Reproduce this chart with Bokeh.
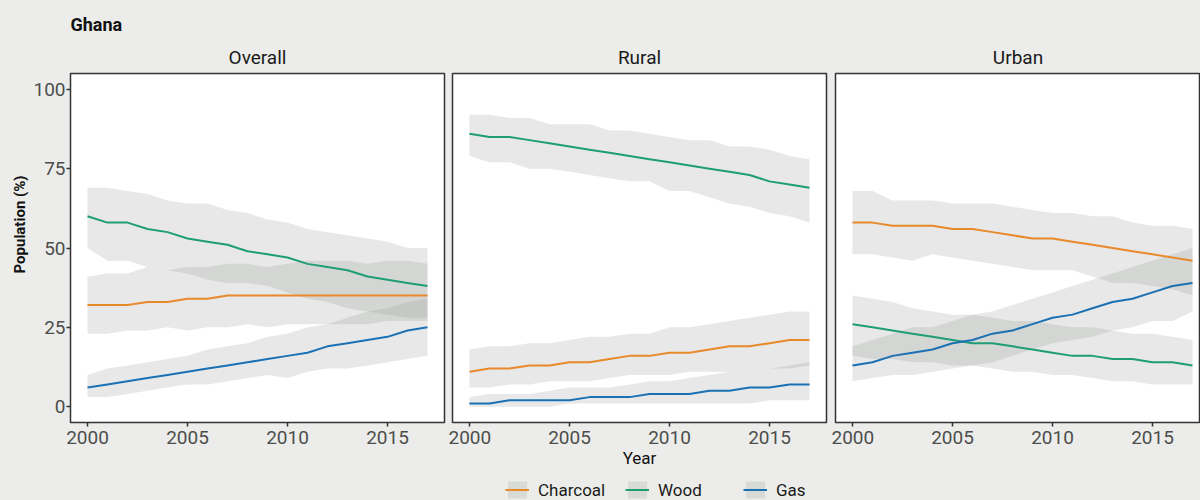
from bokeh.plotting import figure
from bokeh.layouts import row, column
from bokeh.models import Range1d, FixedTicker, Title, Legend, LegendItem
from bokeh.embed import file_html
from bokeh.resources import INLINE

# ---------------- data ----------------
years = list(range(2000, 2018))
fuels = ["Charcoal", "Wood", "Gas"]
panel_names = ["Overall", "Rural", "Urban"]
x_ticks = [2000, 2005, 2010, 2015]
y_ticks = [0, 25, 50, 75, 100]

overall_charcoal = [32, 32, 32, 33, 33, 34, 34, 35, 35, 35, 35, 35, 35, 35, 35, 35, 35, 35]
overall_charcoal_lo = [23, 23, 24, 24, 25, 24, 25, 25, 26, 25, 26, 26, 26, 26, 26, 27, 27, 27]
overall_charcoal_hi = [41, 42, 42, 44, 43, 44, 44, 45, 45, 44, 45, 46, 46, 46, 45, 46, 46, 45]
overall_wood = [60, 58, 58, 56, 55, 53, 52, 51, 49, 48, 47, 45, 44, 43, 41, 40, 39, 38]
overall_wood_lo = [50, 46, 46, 44, 43, 42, 40, 39, 39, 38, 36, 34, 33, 31, 30, 29, 28, 28]
overall_wood_hi = [69, 69, 68, 67, 65, 64, 64, 62, 61, 59, 58, 56, 55, 54, 53, 52, 50, 50]
overall_gas = [6, 7, 8, 9, 10, 11, 12, 13, 14, 15, 16, 17, 19, 20, 21, 22, 24, 25]
overall_gas_lo = [3, 3, 4, 5, 6, 7, 7, 8, 9, 10, 9, 11, 12, 12, 13, 14, 15, 16]
overall_gas_hi = [10, 12, 13, 14, 15, 16, 18, 19, 20, 22, 23, 25, 26, 28, 30, 31, 33, 34]

rural_charcoal = [11, 12, 12, 13, 13, 14, 14, 15, 16, 16, 17, 17, 18, 19, 19, 20, 21, 21]
rural_charcoal_lo = [6, 6, 7, 7, 8, 8, 8, 9, 10, 10, 10, 11, 11, 11, 12, 12, 12, 13]
rural_charcoal_hi = [18, 19, 19, 20, 20, 21, 22, 22, 23, 23, 25, 25, 26, 27, 28, 29, 30, 30]
rural_wood = [86, 85, 85, 84, 83, 82, 81, 80, 79, 78, 77, 76, 75, 74, 73, 71, 70, 69]
rural_wood_lo = [79, 77, 77, 75, 75, 74, 73, 72, 71, 71, 68, 68, 66, 64, 63, 61, 60, 58]
rural_wood_hi = [92, 92, 91, 91, 89, 89, 89, 87, 87, 86, 85, 84, 84, 82, 82, 81, 79, 78]
rural_gas = [1, 1, 2, 2, 2, 2, 3, 3, 3, 4, 4, 4, 5, 5, 6, 6, 7, 7]
rural_gas_lo = [0, 0, 0, 0, 0, 1, 1, 1, 1, 1, 1, 1, 1, 1, 1, 2, 2, 2]
rural_gas_hi = [3, 4, 4, 4, 5, 6, 6, 6, 7, 8, 8, 9, 10, 11, 12, 12, 13, 14]

urban_charcoal = [58, 58, 57, 57, 57, 56, 56, 55, 54, 53, 53, 52, 51, 50, 49, 48, 47, 46]
urban_charcoal_lo = [48, 48, 47, 46, 48, 47, 46, 45, 44, 43, 43, 43, 41, 39, 39, 38, 37, 35]
urban_charcoal_hi = [68, 68, 65, 65, 65, 64, 64, 64, 63, 62, 61, 61, 60, 60, 58, 57, 57, 56]
urban_wood = [26, 25, 24, 23, 22, 21, 20, 20, 19, 18, 17, 16, 16, 15, 15, 14, 14, 13]
urban_wood_lo = [16, 15, 15, 14, 14, 13, 13, 12, 11, 11, 10, 10, 9, 8, 8, 7, 7, 7]
urban_wood_hi = [35, 34, 33, 31, 30, 29, 29, 28, 27, 27, 26, 25, 25, 24, 23, 23, 22, 21]
urban_gas = [13, 14, 16, 17, 18, 20, 21, 23, 24, 26, 28, 29, 31, 33, 34, 36, 38, 39]
urban_gas_lo = [8, 9, 10, 10, 11, 12, 13, 14, 16, 18, 20, 21, 22, 24, 25, 27, 27, 30]
urban_gas_hi = [19, 21, 23, 25, 25, 27, 29, 30, 32, 34, 36, 38, 40, 42, 44, 46, 48, 50]

series = {
    "Overall": [(overall_charcoal, overall_charcoal_lo, overall_charcoal_hi),
                (overall_wood, overall_wood_lo, overall_wood_hi),
                (overall_gas, overall_gas_lo, overall_gas_hi)],
    "Rural": [(rural_charcoal, rural_charcoal_lo, rural_charcoal_hi),
              (rural_wood, rural_wood_lo, rural_wood_hi),
              (rural_gas, rural_gas_lo, rural_gas_hi)],
    "Urban": [(urban_charcoal, urban_charcoal_lo, urban_charcoal_hi),
              (urban_wood, urban_wood_lo, urban_wood_hi),
              (urban_gas, urban_gas_lo, urban_gas_hi)],
}

# ---------------- style ----------------
FONT = "Roboto"
BG = "#ECEDEA"
BAND = "#939693"
BAND_ALPHA = 0.22
COLORS = ["#E8892B", "#1F9E76", "#1B71B3"]
TICK_COLOR = "#4D4D4D"
LEG_H = 24
H = 500 - LEG_H
TOP = 73
FRAME_H = 349
BOTTOM = H - TOP - FRAME_H
FRAME_W = 374
X0 = 1999.15
PX_PER_YEAR = FRAME_W / 18.7


def style_title(t, size="19px", style="normal", align="center", color="#1A1A1A"):
    t.align = align
    t.text_font = FONT
    t.text_font_size = size
    t.text_font_style = style
    t.text_color = color


def make_panel(name, left, right, frame_w, show_y):
    x_end = X0 + frame_w / PX_PER_YEAR
    p = figure(width=left + frame_w + right, height=H,
               x_range=Range1d(X0, x_end), y_range=Range1d(-5, 105),
               output_backend="svg", toolbar_location=None,
               min_border_left=left, min_border_right=right,
               min_border_top=TOP, min_border_bottom=BOTTOM,
               background_fill_color="white", border_fill_color=BG,
               outline_line_color="#333333", outline_line_width=1.5,
               y_axis_location="left" if show_y else None)
    p.grid.visible = False

    ax = p.xaxis[0]
    ax.ticker = FixedTicker(ticks=x_ticks)
    ax.axis_line_color = None
    ax.major_tick_line_color = "#333333"
    ax.major_tick_line_width = 1.5
    ax.major_tick_out = 4
    ax.major_tick_in = 0
    ax.minor_tick_line_color = None
    ax.major_label_text_font = FONT
    ax.major_label_text_font_size = "19px"
    ax.major_label_text_color = TICK_COLOR
    ax.major_label_standoff = 4
    if show_y:
        ay = p.yaxis[0]
        ay.ticker = FixedTicker(ticks=y_ticks)
        ay.axis_line_color = None
        ay.major_tick_line_color = "#333333"
        ay.major_tick_line_width = 1.5
        ay.major_tick_out = 4
        ay.major_tick_in = 0
        ay.minor_tick_line_color = None
        ay.major_label_text_font = FONT
        ay.major_label_text_font_size = "19px"
        ay.major_label_text_color = TICK_COLOR
        ay.major_label_standoff = 1

    bands, lines = [], []
    for (mean, lo, hi) in series[name]:
        bands.append(p.varea(x=years, y1=lo, y2=hi, fill_color=BAND, fill_alpha=BAND_ALPHA))
    for (mean, lo, hi), c in zip(series[name], COLORS):
        lines.append(p.line(x=years, y=mean, line_color=c, line_width=2))
    return p, bands, lines


p1, b1, l1 = make_panel("Overall", 70, 4, FRAME_W, True)
p2, b2, l2 = make_panel("Rural", 4, 5, FRAME_W, False)
p3, b3, l3 = make_panel("Urban", 4, 0, 365, False)

# strip titles and country title
p1.title.text = "Ghana"
style_title(p1.title, size="18px", style="bold", align="left", color="#111111")
p1.title.standoff = 8
strip1 = Title(text=panel_names[0], standoff=10)
style_title(strip1)
p1.add_layout(strip1, "above")
for p, name in ((p2, panel_names[1]), (p3, panel_names[2])):
    p.title.text = name
    style_title(p.title)
    p.title.standoff = 10

# y axis title (start of the text shifted up from the frame bottom)
ylab = Title(text="Population (%)", standoff=4)
style_title(ylab, size="15px", style="bold", align="left", color="#111111")
ylab.offset = 149
p1.add_layout(ylab, "left")

# x axis title
p2.xaxis[0].axis_label = "Year"
p2.xaxis[0].axis_label_text_font = FONT
p2.xaxis[0].axis_label_text_font_size = "17px"
p2.xaxis[0].axis_label_text_font_style = "normal"
p2.xaxis[0].axis_label_text_color = "#111111"
p2.xaxis[0].axis_label_standoff = 1

# legend strip: its own figure below the panels (glyphs kept out of view)
leg_fig = figure(width=1200, height=LEG_H, x_range=Range1d(0, 1), y_range=Range1d(0, 1),
                 output_backend="svg", toolbar_location=None, min_border=0,
                 x_axis_location=None, y_axis_location=None,
                 background_fill_color=BG, border_fill_color=BG, outline_line_color=None)
leg_fig.grid.visible = False
legend_x = [505, 625, 743]
for i, (fuel, (mean, lo, hi)) in enumerate(zip(fuels, series["Overall"])):
    b = leg_fig.varea(x=years, y1=lo, y2=hi, fill_color=BAND, fill_alpha=BAND_ALPHA)
    ln = leg_fig.line(x=years, y=mean, line_color=COLORS[i], line_width=2)
    leg = Legend(items=[LegendItem(label=fuel, renderers=[b, ln])],
                 location=(legend_x[i], 0), orientation="horizontal",
                 background_fill_alpha=0, border_line_color=None,
                 padding=0, margin=0, glyph_width=24, glyph_height=21,
                 label_standoff=9, label_text_font=FONT, label_text_font_size="17px",
                 label_text_color="#1A1A1A")
    leg_fig.add_layout(leg, "center")

layout = column(row(p1, p2, p3, spacing=0, background=BG), leg_fig, spacing=0, background=BG)
open("out.html", "w").write(file_html(layout, INLINE))
